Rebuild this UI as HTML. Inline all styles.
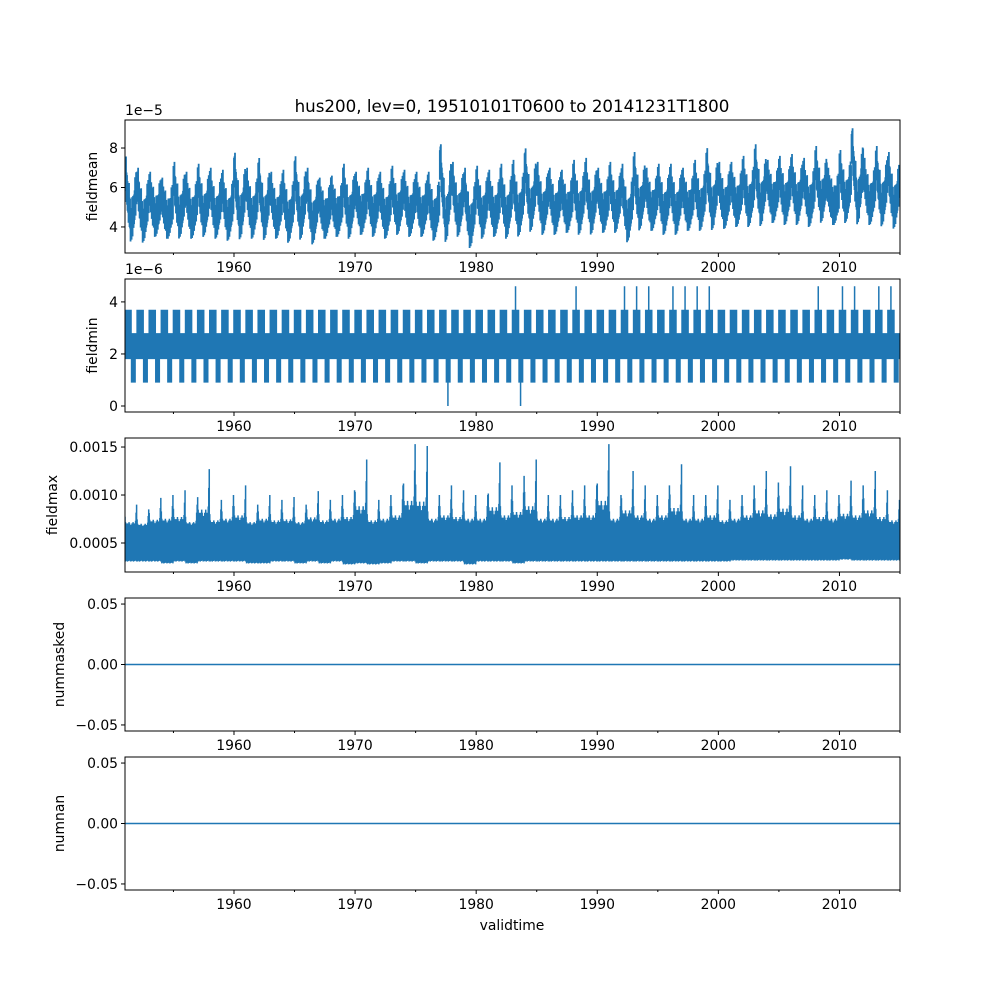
<!DOCTYPE html>
<html><head><meta charset="utf-8">
<style>
html,body{margin:0;padding:0;background:#fff;}
svg{display:block;font-family:"DejaVu Sans","Liberation Sans",sans-serif;}
</style></head>
<body>
<svg id="chart" width="1000" height="1000" viewBox="0 0 1000 1000">
<text x="512" y="112" font-size="16.7" text-anchor="middle">hus200, lev=0, 19510101T0600 to 20141231T1800</text>
<g id="plots"></g>
<text x="512" y="930" font-size="13.9" text-anchor="middle">validtime</text>
</svg>
<script>
const years = [];
for (let y = 1951; y <= 2014; y++) years.push(y);
const meanPeak = [7.6,7.0,6.8,6.5,7.3,6.8,7.2,7.0,6.9,7.8,7.0,7.5,6.8,6.9,7.6,7.0,6.5,6.6,7.2,6.8,7.0,6.8,7.1,6.9,6.8,6.8,8.3,7.3,7.0,7.1,6.9,7.2,7.4,8.0,7.3,7.0,6.9,7.4,7.5,7.0,7.3,7.2,7.8,7.0,7.2,7.2,7.0,7.4,8.0,7.3,7.3,7.6,8.2,7.4,7.6,7.7,7.5,8.1,7.0,7.9,9.1,7.5,8.1,7.8];
const meanLow = [3.2,3.2,3.5,3.4,3.4,3.4,3.5,3.4,3.3,3.3,3.4,3.3,3.4,3.2,3.3,3.1,3.4,3.5,3.4,3.6,3.5,3.4,3.6,3.5,3.5,3.3,3.1,3.5,2.9,3.4,3.5,3.4,3.5,3.7,3.6,3.6,3.7,3.6,3.6,3.7,3.7,3.2,3.8,3.8,3.6,3.6,3.8,3.8,3.8,3.9,4.0,4.0,4.0,4.2,4.1,4.1,4.0,4.2,4.1,4.2,4.0,4.1,4.0,3.9];
const minHigh = [3.7,3.7,3.7,3.7,3.7,3.7,3.7,3.7,3.7,3.7,3.7,3.7,3.7,3.7,3.7,3.7,3.7,3.7,3.7,3.7,3.7,3.7,3.7,3.7,3.7,3.7,3.7,3.7,3.7,3.7,3.7,3.7,4.6,3.7,3.7,3.7,3.7,4.6,3.7,3.7,3.7,4.6,4.6,4.6,3.7,4.6,4.6,4.6,4.6,3.7,3.7,3.7,3.7,3.7,3.7,3.7,3.7,4.6,3.7,4.6,4.6,3.7,4.6,4.6];
const minLow = [0.9,0.9,0.9,0.9,0.9,0.9,0.9,0.9,0.9,0.9,0.9,0.9,0.9,0.9,0.9,0.9,0.9,0.9,0.9,0.9,0.9,0.9,0.9,0.9,0.9,0.9,0.0,0.9,0.9,0.9,0.9,0.9,0.0,0.9,0.9,0.9,0.9,0.9,0.9,0.9,0.9,0.9,0.9,0.9,0.9,0.9,0.9,0.9,0.9,0.9,0.9,0.9,0.9,0.9,0.9,0.9,0.9,0.9,0.9,0.9,0.9,0.9,0.9,0.9];
const maxPeak = [0.00090,0.00085,0.00097,0.00100,0.00105,0.00090,0.00127,0.00095,0.00100,0.00110,0.00090,0.00100,0.00095,0.00098,0.00090,0.00104,0.00095,0.00100,0.00105,0.00137,0.00095,0.00100,0.00110,0.00153,0.00151,0.00100,0.00110,0.00105,0.00100,0.00100,0.00134,0.00110,0.00120,0.00137,0.00100,0.00100,0.00105,0.00110,0.00110,0.00153,0.00100,0.00125,0.00110,0.00100,0.00110,0.00132,0.00100,0.00100,0.00110,0.00095,0.00100,0.00110,0.00125,0.00113,0.00130,0.00110,0.00100,0.00105,0.00100,0.00115,0.00110,0.00125,0.00105,0.00095];
const maxLow = [0.00030,0.00030,0.00030,0.00028,0.00030,0.00028,0.00030,0.00030,0.00030,0.00030,0.00028,0.00028,0.00030,0.00030,0.00028,0.00030,0.00028,0.00030,0.00027,0.00028,0.00027,0.00028,0.00030,0.00030,0.00028,0.00030,0.00030,0.00030,0.00027,0.00030,0.00030,0.00030,0.00028,0.00030,0.00030,0.00030,0.00030,0.00030,0.00030,0.00030,0.00030,0.00030,0.00030,0.00030,0.00030,0.00030,0.00030,0.00030,0.00030,0.00030,0.00031,0.00031,0.00031,0.00031,0.00031,0.00031,0.00031,0.00031,0.00031,0.00032,0.00031,0.00031,0.00031,0.00031];
const zeroSeries = [0, 0];
const xTicks = [1960,1970,1980,1990,2000,2010];
const xMinor = [1955,1965,1975,1985,1995,2005,2015];

const NS = "http://www.w3.org/2000/svg";
const plots = document.getElementById('plots');
const X0 = 125, X1 = 900, T0 = 1951.0, T1 = 2015.0;
const xs = t => X0 + (t - T0) / (T1 - T0) * (X1 - X0);
const C = '#1f77b4';
const FS = 13.9;
function el(tag, attrs, parent) {
  const e = document.createElementNS(NS, tag);
  for (const k in attrs) e.setAttribute(k, attrs[k]);
  (parent || plots).appendChild(e);
  return e;
}
const seasonShape = [.85,1,.9,.75,.6,.65,.5,.4,.45,.3,.2,.1,.05,.12,.2,.15,.25,.35,.3,.45,.55,.5,.65,.75];
const jitter = [.2,-.3,.35,-.15,.25,-.35,.1,-.2,.3,-.1,.2,-.3,.15,-.25,.3,-.15,.2,-.35,.1,-.2,.3,-.1,.25,-.3];

function panel(cfg) {
  const {top, bot, ymin, ymax, ticks, tickLabels, ylabel, name, exp} = cfg;
  const ys = v => bot - (v - ymin) / (ymax - ymin) * (bot - top);
  const g = el('g', {});
  
  
  const clip = el('clipPath', {id: 'clip-' + name}, g);
  el('rect', {x: X0, y: top, width: X1 - X0, height: bot - top}, clip);
  const data = el('g', {'clip-path': 'url(#clip-' + name + ')'}, g);
  
  
  cfg.draw(data, ys);
  el('rect', {x: X0, y: top, width: X1 - X0, height: bot - top, fill: 'none', stroke: '#000', 'stroke-width': 1}, g);
  ticks.forEach((v, i) => {
    const y = ys(v);
    el('line', {x1: X0 - 4, x2: X0, y1: y, y2: y, stroke: '#000'}, g);
    const t = el('text', {x: X0 - 7, y: y + 5, 'font-size': FS, 'text-anchor': 'end'}, g);
    t.textContent = tickLabels[i];
    
    
  });
  xTicks.forEach(v => {
    const x = xs(v);
    el('line', {x1: x, x2: x, y1: bot, y2: bot + 4, stroke: '#000'}, g);
    const t = el('text', {x: x, y: bot + 19, 'font-size': FS, 'text-anchor': 'middle'}, g);
    t.textContent = v;
    
    
  });
  xMinor.forEach(v => {
    const x = xs(v);
    el('line', {x1: x, x2: x, y1: bot, y2: bot + 2, stroke: '#000'}, g);
  });
  const yl = el('text', {x: 0, y: 0, 'font-size': FS, 'text-anchor': 'middle', transform: `translate(${cfg.ylx},${(top + bot) / 2}) rotate(-90)`}, g);
  yl.textContent = ylabel;
  
  
  if (exp) {
    const e = el('text', {x: X0, y: top - 5, 'font-size': FS}, g);
    e.textContent = exp;
    
    
  }
}

function seasonal(parent, ys, peaks, lows, half, name) {
  let d = '';
  years.forEach((yr, i) => {
    for (let k = 0; k < 24; k++) {
      const x = xs(yr + k / 24);
      const c = lows[i] + half + (peaks[i] - lows[i] - 2 * half) * seasonShape[k] + jitter[k] * half;
      const hi = Math.min(peaks[i], c + half), lo = Math.max(lows[i], c - half);
      d += `M${x.toFixed(2)},${ys(hi).toFixed(2)}V${ys(lo).toFixed(2)}`;
    }
  });
  const p = el('path', {d, stroke: C, 'stroke-width': 1.8, fill: 'none'}, parent);
  
  
}

panel({top: 120, bot: 253, ymin: 2.68, ymax: 9.42, ticks: [4,6,8], tickLabels: ['4','6','8'], ylabel: 'fieldmean', name: 'fieldmean', exp: '1e\u22125', ylx: 97,
  draw: (g, ys) => seasonal(g, ys, meanPeak, meanLow, 0.75, 'fieldmean-line')});

panel({top: 279, bot: 412, ymin: -0.23, ymax: 4.88, ticks: [0,2,4], tickLabels: ['0','2','4'], ylabel: 'fieldmin', name: 'fieldmin', exp: '1e\u22126', ylx: 97,
  draw: (g, ys) => {
    let d = '';
    years.forEach((yr, i) => {
      for (let k = 0; k < 24; k++) {
        const x = xs(yr + k / 24);
        let hi, lo;
        if (k < 13) { hi = 3.7; lo = 1.8; }
        else if (k < 21) { hi = 2.8; lo = minLow[i] > 0 ? minLow[i] : 0.9; }
        else { hi = 2.8; lo = 1.8; }
        if (k === 16 && minLow[i] === 0) lo = 0;
        if (k === 6 && minHigh[i] > 3.7) hi = minHigh[i];
        d += `M${x.toFixed(2)},${ys(hi).toFixed(2)}V${ys(lo).toFixed(2)}`;
      }
    });
    const p = el('path', {d, stroke: C, 'stroke-width': 1.5, fill: 'none'}, g);
    
    
  }});

const maxShape = [.55,.35,.3,.25,.2,.3,.25,.2,.35,.3,.15,.2,.25,.2,.3,.25,.35,.3,.2,.3,.25,.4,.7,1];
panel({top: 438, bot: 572, ymin: 0.000198, ymax: 0.001594, ticks: [0.0005,0.0010,0.0015], tickLabels: ['0.0005','0.0010','0.0015'], ylabel: 'fieldmax', name: 'fieldmax', exp: null, ylx: 57,
  draw: (g, ys) => {
    let d = '';
    years.forEach((yr, i) => {
      for (let k = 0; k < 24; k++) {
        const x = xs(yr + k / 24);
        const base = 0.00062;
        const hi = base + (maxPeak[i] - base) * maxShape[k];
        const lo = maxLow[i] + 0.00004 * (0.5 + jitter[k]);
        d += `M${x.toFixed(2)},${ys(hi).toFixed(2)}V${ys(lo).toFixed(2)}`;
      }
    });
    const p = el('path', {d, stroke: C, 'stroke-width': 1.5, fill: 'none'}, g);
    
    
  }});

function zeroPanel(top, bot, name, ylabel) {
  panel({top, bot, ymin: -0.055, ymax: 0.055, ticks: [-0.05,0,0.05], tickLabels: ['\u22120.05','0.00','0.05'], ylabel, name, exp: null, ylx: 64,
    draw: (g, ys) => {
      const p = el('line', {x1: xs(T0), x2: xs(T1), y1: ys(zeroSeries[0]), y2: ys(zeroSeries[1]), stroke: C, 'stroke-width': 1.5}, g);
      
      
    }});
}
zeroPanel(598, 731, 'nummasked', 'nummasked');
zeroPanel(757, 890, 'numnan', 'numnan');
</script>
</body></html>
